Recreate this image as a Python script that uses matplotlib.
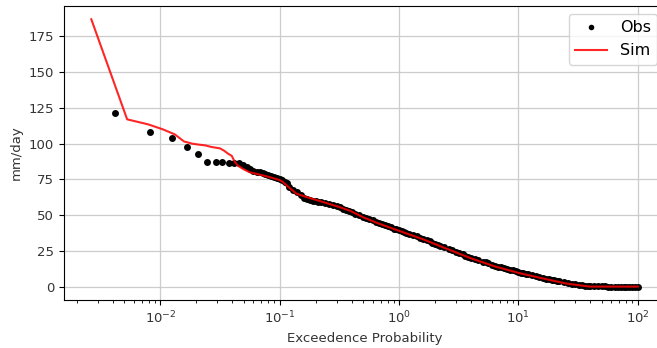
"""
Flow duration style plot: exceedance probability of observed vs simulated
daily values (mm/day).
"""
# Imports
import matplotlib
matplotlib.use('Agg')
import matplotlib.pyplot as plt

# Data
# Observed values: top ranks one by one, then the dense part of the curve
obs_prob = [0.00414, 0.00824, 0.0124, 0.0166, 0.0207, 0.0248, 0.029, 0.0331,
            0.0373, 0.0414, 0.0455, 0.0497,
            0.053, 0.056, 0.060, 0.064, 0.068, 0.072, 0.076, 0.080, 0.085,
            0.090, 0.095, 0.100, 0.105, 0.110, 0.115, 0.120, 0.130, 0.140,
            0.150, 0.160, 0.170, 0.180, 0.190, 0.200, 0.210, 0.220, 0.240,
            0.260, 0.280, 0.300, 0.320, 0.340, 0.360, 0.380, 0.400, 0.430,
            0.460, 0.500, 0.530, 0.560, 0.600, 0.640, 0.680, 0.720, 0.760,
            0.800, 0.850, 0.900, 0.950,
            1.0, 1.05, 1.1, 1.15, 1.2, 1.3, 1.4, 1.5, 1.6, 1.7, 1.8, 1.9,
            2.0, 2.1, 2.2, 2.4, 2.6, 2.8, 3.0, 3.2, 3.4, 3.6, 3.8, 4.0, 4.3,
            4.6, 5.0, 5.3, 5.6, 6.0, 6.4, 6.8, 7.2, 7.6, 8.0, 8.5, 9.0, 9.5,
            10, 10.5, 11, 11.5, 12, 13, 14, 15, 16, 17, 18, 19, 20, 21, 22,
            24, 26, 28, 30, 32, 34, 36, 38, 40, 43, 46, 50, 53, 56, 60, 64,
            68, 72, 76, 80, 85, 90, 95, 100]
obs_val = [121.5, 108.5, 104.0, 98.0, 92.9, 87.5, 87.1, 87.1,
           86.4, 86.4, 86.2, 85.2,
           83.5, 82.0, 81.0, 80.5, 80.0, 79.5, 79.0, 78.4, 77.3,
           76.5, 75.9, 75.5, 74.3, 73.3, 72.5, 69.5, 67.8, 66.0,
           64.0, 62.0, 61.0, 60.6, 60.2, 59.7, 59.4, 59.0, 58.4,
           57.8, 57.2, 56.1, 55.4, 54.6, 53.6, 52.8, 52.1, 51.1,
           49.9, 48.8, 48.1, 47.4, 46.4, 45.4, 44.6, 43.8, 43.0,
           42.3, 41.4, 40.6, 40.0,
           39.5, 38.9, 38.3, 37.7, 37.1, 36.1, 35.1, 34.2, 33.4, 32.5, 31.6,
           30.7, 30.0, 29.3, 28.7, 27.6, 26.5, 25.4, 24.3, 23.3, 22.5, 21.7,
           20.9, 20.2, 19.4, 18.5, 17.5, 16.9, 16.2, 15.4, 14.7, 14.0, 13.4,
           12.8, 12.2, 11.7, 11.3, 10.7,
           10.2, 9.8, 9.4, 9.0, 8.6, 7.9, 7.3, 6.7, 6.1, 5.6, 5.2, 4.7, 4.3,
           3.9, 3.6, 3.0, 2.4, 1.9, 1.5, 1.2, 0.9, 0.7, 0.5, 0.4, 0.3, 0.2,
           0.1, 0.1, 0.0, 0.0, 0.0, 0.0, 0.0, 0.0, 0.0, 0.0, 0.0, 0.0, 0.0]

# Simulated values
sim_prob = [0.00264, 0.00527, 0.0079, 0.0105, 0.0132, 0.0158, 0.0185, 0.0211,
            0.0237, 0.0264, 0.029, 0.0316, 0.0343, 0.0369, 0.0396, 0.0422,
            0.0448, 0.05, 0.056, 0.063, 0.079, 0.1, 0.107, 0.117, 0.123,
            0.138, 0.17, 0.234, 0.32, 0.39, 0.5, 0.68, 1.0, 1.6, 2.5, 4.0,
            6.3, 10, 16, 25, 35.5, 40, 100]
sim_val = [187, 117, 113.5, 110, 106.5, 101.5, 100, 99.3, 98.8, 97.8, 97.2,
           96.7, 95, 93, 91.5, 87, 84.5, 82, 80, 79, 77, 74.5, 73, 70, 68.5,
           65, 62.5, 59, 55.5, 53, 48.5, 44, 39, 33, 26.5, 19.8, 14.2, 9.6,
           5.7, 2.2, 0.5, 0, 0]

# Figure
fig = plt.figure(figsize=(6.57, 3.48), dpi=100)
# axes run slightly past the right edge, as in the reference crop
ax = fig.add_axes([0.0974, 0.138, 0.915, 0.845])

ax.plot(obs_prob, obs_val, 'o', color='black', markersize=5,
        markeredgewidth=0, label='Obs')
ax.plot(sim_prob, sim_val, '-', color='red', alpha=0.85, lw=1.5,
        label='Sim')

ax.set_xscale('log')
ax.grid(True, which='major', color='0.8', lw=0.9)
ax.set_axisbelow(True)

text_col = '0.2'
ax.tick_params(labelsize=9.5, labelcolor=text_col)
ax.set_xlabel('Exceedence Probability', fontsize=9.5, color=text_col)
ax.set_ylabel('mm/day', fontsize=9.5, color=text_col)

leg = ax.legend(loc='upper right', fontsize=11.5)
# keep the legend dot about the size of the reference one
leg.legend_handles[0].set_markersize(4)

fig.savefig('out.png', dpi=100)
